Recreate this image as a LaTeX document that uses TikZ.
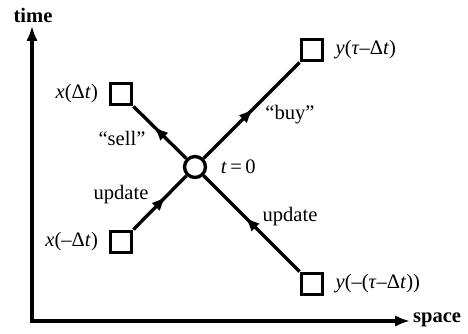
\documentclass[tikz,border=0pt]{standalone}
\usepackage{fontspec}
\setmainfont{Liberation Serif}
\usetikzlibrary{positioning,arrows.meta,decorations.markings}

\begin{document}
\begin{tikzpicture}[
  x=0.02cm, y=-0.02cm,
  font=\fontsize{11.7}{14}\selectfont,
  site/.style={draw, line width=1.9pt, minimum size=0.43cm, inner sep=0pt},
  origin/.style={draw, circle, line width=1.9pt, minimum size=0.42cm, inner sep=0pt},
  axis/.style={{Latex[length=3mm,width=2.3mm]}-{Latex[length=3mm,width=2.3mm]}, line width=1.9pt},
  flow/.style={line width=1.9pt, postaction={decorate},
    decoration={markings, mark=at position #1 with {\arrow{Latex[length=3mm,width=2.3mm]}}}}
]
\useasboundingbox (0,0) rectangle (468,334);
% axes
\coordinate (top) at (32,26);
\coordinate (right) at (410,321);
\node (time) at (33,15) {\textbf{time}};
\node[anchor=west, inner sep=1pt] (space) at (411,320) {\textbf{space}};
\draw[axis] (top) |- (right);
% sites
\node[origin] (c) at (195,167) {};
\node[right=1.5mm of c] (t0) {\textit{t}\,=\,0};
\node[site] (xp) at (121,94) {};
\node[site] (xm) at (121,242) {};
\node[site] (yp) at (312,50) {};
\node[site] (ym) at (312,284) {};
\node[left=0.9mm of xp] (xplab) {\textit{x}(Δ\textit{t})};
\node[left=0.9mm of xm] (xmlab) {\textit{x}(–Δ\textit{t})};
\node[right=1mm of yp] (yplab) {\textit{y}(\textit{τ}–Δ\textit{t})};
\node[right=1mm of ym] (ymlab) {\textit{y}(–(\textit{τ}–Δ\textit{t}))};
% links
\draw[flow=0.62] (xm.north east) -- (c);
\draw[flow=0.62] (c) -- (xp.south east);
\draw[flow=0.52] (c) -- (yp.south west);
\draw[flow=0.57] (ym.north west) -- (c);
\node (sell) at (122,138) {“sell”};
\node (buy) at (290,115) {“buy”};
\node (upl) at (121,195) {update};
\node (upr) at (290,217) {update};
\end{tikzpicture}
\end{document}
